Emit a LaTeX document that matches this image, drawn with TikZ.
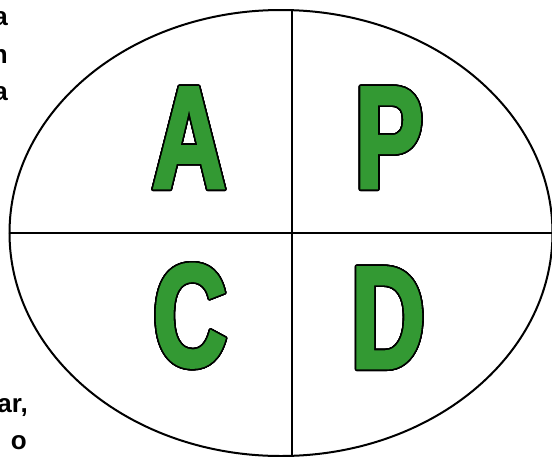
\documentclass[tikz,border=0pt]{standalone}
\usepackage{fontspec}
\setmainfont{Liberation Sans}
\newfontfamily\pdcafont[FakeStretch=0.70, FakeBold=2]{Liberation Sans}
\usepackage{contour}
\contourlength{1.6pt}
\contournumber{32}
\usetikzlibrary{shapes.geometric}
\definecolor{pdcagreen}{RGB}{51,153,51}
\tikzset{
  letter/.style={anchor=base, inner sep=0pt, text=pdcagreen,
    font=\pdcafont\bfseries\fontsize{146}{146}\selectfont},
  side/.style={anchor=base east, inner sep=0pt,
    font=\bfseries\fontsize{26}{26}\selectfont}
}
\newcommand{\pdcaletter}[1]{\contour{black}{#1}}

\begin{document}
\begin{tikzpicture}[x=1pt, y=-1pt]
    \useasboundingbox (0,0) rectangle (552,456);

    % Oval and cross
    \node[draw, ellipse, line width=2pt, minimum width=543pt, minimum height=446pt] (oval) at (281,233) {};
    \coordinate (top) at (292,10);
    \coordinate (bot) at (292,456);
    \draw[line width=2.6pt] (oval.west) -- (oval.east);
    \draw[line width=2.6pt] (top) -- (bot);

    % Letters
    \node[letter] (A) at (189,188) {\pdcaletter{A}};
    \node[letter] (P) at (389,188) {\pdcaletter{P}};
    \node[letter] (C) at (190,366) {\pdcaletter{C}};
    \node[letter] (D) at (388,368) {\pdcaletter{D}};

    % Cut-off text at the left
    \node[side] (t1) at (8,25) {a};
    \node[side] (t2) at (8,63) {n};
    \node[side] (t3) at (8,100) {a};
    \node[side] (t4) at (28,412) {ar,};
    \node[side] (t5) at (27,449) {o};
\end{tikzpicture}
\end{document}
